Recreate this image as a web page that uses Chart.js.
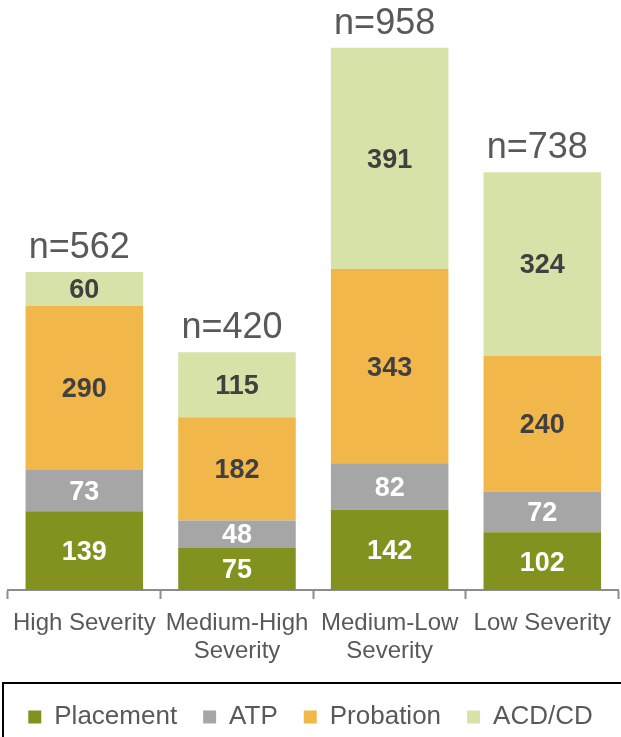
<!DOCTYPE html>
<html>
<head>
<meta charset="utf-8">
<script src="https://cdn.jsdelivr.net/npm/chart.js@4.4.1/dist/chart.umd.min.js"></script>
<style>
  html, body { margin: 0; padding: 0; background: #ffffff; }
  #wrap { width: 621px; height: 737px; position: relative; }
</style>
</head>
<body>
<div id="wrap"><canvas id="chart" width="621" height="737"></canvas></div>
<script>
// Severity groups along the x axis
const categories = [
  'High Severity',
  ['Medium-High', 'Severity'],
  ['Medium-Low', 'Severity'],
  'Low Severity'
];

// Stacked counts per outcome, bottom to top
const placement = [139, 75, 142, 102];
const atp       = [73, 48, 82, 72];
const probation = [290, 182, 343, 240];
const acdCd     = [60, 115, 391, 324];

const seriesNames  = ['Placement', 'ATP', 'Probation', 'ACD/CD'];
const seriesColors = ['#83921F', '#A6A6A6', '#F1B74B', '#D7E2A8'];
const labelColors  = ['#FFFFFF', '#FFFFFF', '#404040', '#404040'];

const FONT = "'Liberation Sans', Arial, Helvetica, sans-serif";

// Writes each segment's count inside it and the group total above the stack
const valueLabels = {
  id: 'valueLabels',
  afterDatasetsDraw(chart) {
    const ctx = chart.ctx;
    ctx.save();
    ctx.textAlign = 'center';
    ctx.textBaseline = 'middle';
    ctx.font = 'bold 27px ' + FONT;
    chart.data.datasets.forEach((ds, di) => {
      const meta = chart.getDatasetMeta(di);
      ctx.fillStyle = labelColors[di];
      meta.data.forEach((bar, i) => {
        const p = bar.getProps(['x', 'y', 'base'], true);
        ctx.fillText(String(ds.data[i]), p.x, (p.y + p.base) / 2 + 2);
      });
    });
    const last = chart.getDatasetMeta(chart.data.datasets.length - 1);
    ctx.font = '36px ' + FONT;
    ctx.fillStyle = '#595959';
    ctx.textBaseline = 'alphabetic';
    last.data.forEach((bar, i) => {
      const total = chart.data.datasets.reduce((s, d) => s + d.data[i], 0);
      ctx.fillText('n=' + total, bar.x - 5, bar.y - 14);
    });
    ctx.restore();
  }
};

// Frame drawn around the legend row
const legendFrame = {
  id: 'legendFrame',
  afterDraw(chart) {
    const lg = chart.legend;
    const ctx = chart.ctx;
    ctx.save();
    ctx.strokeStyle = '#000000';
    ctx.lineWidth = 2;
    ctx.strokeRect(3, lg.top + 5, 700, 200);
    ctx.restore();
  }
};

new Chart(document.getElementById('chart'), {
  type: 'bar',
  data: {
    labels: categories,
    datasets: seriesNames.map((name, k) => ({
      label: name,
      data: [placement, atp, probation, acdCd][k],
      backgroundColor: seriesColors[k],
      borderWidth: 0,
      categoryPercentage: 1,
      barPercentage: 0.77
    }))
  },
  options: {
    responsive: false,
    animation: false,
    devicePixelRatio: 1,
    layout: { padding: { top: 24, left: 0, right: 0, bottom: -3 } },
    scales: {
      x: {
        stacked: true,
        offset: true,
        grid: {
          display: true,
          offset: true,
          drawOnChartArea: false,
          drawTicks: true,
          tickLength: 9,
          tickWidth: 2,
          tickColor: '#8C8C8C'
        },
        border: { display: true, color: '#8C8C8C', width: 2 },
        ticks: {
          color: '#595959',
          font: { family: FONT, size: 24, lineHeight: 1.17 },
          maxRotation: 0,
          autoSkip: false,
          padding: 10
        },
        afterFit(scale) { scale.height = 88; }
      },
      y: {
        stacked: true,
        display: true,
        min: 0,
        max: 1000,
        grid: { display: false },
        border: { display: false },
        ticks: { display: false },
        afterFit(scale) { scale.width = 8; }
      }
    },
    plugins: {
      legend: {
        position: 'bottom',
        labels: {
          color: '#595959',
          font: { family: FONT, size: 26 },
          boxWidth: 13,
          boxHeight: 13,
          padding: 26
        }
      },
      tooltip: { enabled: false }
    }
  },
  plugins: [valueLabels, legendFrame]
});
</script>
</body>
</html>
